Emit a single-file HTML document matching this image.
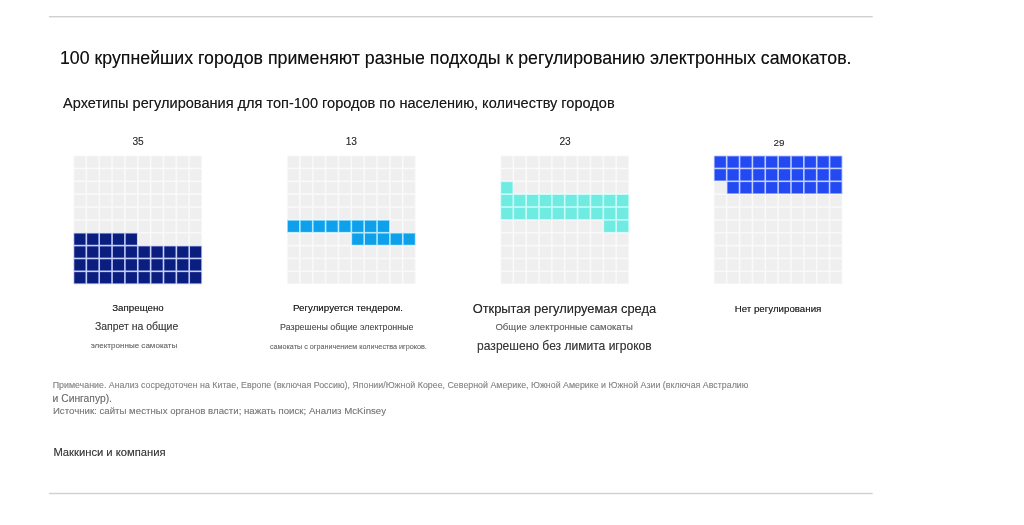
<!DOCTYPE html>
<html lang="ru">
<head>
<meta charset="utf-8">
<title>Архетипы регулирования электронных самокатов</title>
<style>
html,body{margin:0;padding:0;background:#fff;}
body{width:1024px;height:525px;position:relative;overflow:hidden;font-family:"Liberation Sans",sans-serif;}
.art{position:absolute;left:0;top:0;}
.t{position:absolute;white-space:nowrap;line-height:1;}
</style>
</head>
<body>
<svg class="art" width="1024" height="525" viewBox="0 0 1024 525">
<rect x="48.9" y="16.0" width="823.8" height="1.4" fill="#d0d0d0" style="filter:blur(0.4px)"/>
<rect x="48.9" y="492.8" width="823.8" height="1.4" fill="#d0d0d0" style="filter:blur(0.4px)"/>
<g style="filter:blur(0.65px)">
<rect x="73.47" y="155.57" width="12.91" height="12.91" fill="#f8f8f8"/>
<rect x="86.33" y="155.57" width="12.91" height="12.91" fill="#f8f8f8"/>
<rect x="99.19" y="155.57" width="12.91" height="12.91" fill="#f8f8f8"/>
<rect x="112.05" y="155.57" width="12.91" height="12.91" fill="#f8f8f8"/>
<rect x="124.91" y="155.57" width="12.91" height="12.91" fill="#f8f8f8"/>
<rect x="137.77" y="155.57" width="12.91" height="12.91" fill="#f8f8f8"/>
<rect x="150.63" y="155.57" width="12.91" height="12.91" fill="#f8f8f8"/>
<rect x="163.49" y="155.57" width="12.91" height="12.91" fill="#f8f8f8"/>
<rect x="176.35" y="155.57" width="12.91" height="12.91" fill="#f8f8f8"/>
<rect x="189.21" y="155.57" width="12.91" height="12.91" fill="#f8f8f8"/>
<rect x="73.47" y="168.43" width="12.91" height="12.91" fill="#f8f8f8"/>
<rect x="86.33" y="168.43" width="12.91" height="12.91" fill="#f8f8f8"/>
<rect x="99.19" y="168.43" width="12.91" height="12.91" fill="#f8f8f8"/>
<rect x="112.05" y="168.43" width="12.91" height="12.91" fill="#f8f8f8"/>
<rect x="124.91" y="168.43" width="12.91" height="12.91" fill="#f8f8f8"/>
<rect x="137.77" y="168.43" width="12.91" height="12.91" fill="#f8f8f8"/>
<rect x="150.63" y="168.43" width="12.91" height="12.91" fill="#f8f8f8"/>
<rect x="163.49" y="168.43" width="12.91" height="12.91" fill="#f8f8f8"/>
<rect x="176.35" y="168.43" width="12.91" height="12.91" fill="#f8f8f8"/>
<rect x="189.21" y="168.43" width="12.91" height="12.91" fill="#f8f8f8"/>
<rect x="73.47" y="181.29" width="12.91" height="12.91" fill="#f8f8f8"/>
<rect x="86.33" y="181.29" width="12.91" height="12.91" fill="#f8f8f8"/>
<rect x="99.19" y="181.29" width="12.91" height="12.91" fill="#f8f8f8"/>
<rect x="112.05" y="181.29" width="12.91" height="12.91" fill="#f8f8f8"/>
<rect x="124.91" y="181.29" width="12.91" height="12.91" fill="#f8f8f8"/>
<rect x="137.77" y="181.29" width="12.91" height="12.91" fill="#f8f8f8"/>
<rect x="150.63" y="181.29" width="12.91" height="12.91" fill="#f8f8f8"/>
<rect x="163.49" y="181.29" width="12.91" height="12.91" fill="#f8f8f8"/>
<rect x="176.35" y="181.29" width="12.91" height="12.91" fill="#f8f8f8"/>
<rect x="189.21" y="181.29" width="12.91" height="12.91" fill="#f8f8f8"/>
<rect x="73.47" y="194.15" width="12.91" height="12.91" fill="#f8f8f8"/>
<rect x="86.33" y="194.15" width="12.91" height="12.91" fill="#f8f8f8"/>
<rect x="99.19" y="194.15" width="12.91" height="12.91" fill="#f8f8f8"/>
<rect x="112.05" y="194.15" width="12.91" height="12.91" fill="#f8f8f8"/>
<rect x="124.91" y="194.15" width="12.91" height="12.91" fill="#f8f8f8"/>
<rect x="137.77" y="194.15" width="12.91" height="12.91" fill="#f8f8f8"/>
<rect x="150.63" y="194.15" width="12.91" height="12.91" fill="#f8f8f8"/>
<rect x="163.49" y="194.15" width="12.91" height="12.91" fill="#f8f8f8"/>
<rect x="176.35" y="194.15" width="12.91" height="12.91" fill="#f8f8f8"/>
<rect x="189.21" y="194.15" width="12.91" height="12.91" fill="#f8f8f8"/>
<rect x="73.47" y="207.01" width="12.91" height="12.91" fill="#f8f8f8"/>
<rect x="86.33" y="207.01" width="12.91" height="12.91" fill="#f8f8f8"/>
<rect x="99.19" y="207.01" width="12.91" height="12.91" fill="#f8f8f8"/>
<rect x="112.05" y="207.01" width="12.91" height="12.91" fill="#f8f8f8"/>
<rect x="124.91" y="207.01" width="12.91" height="12.91" fill="#f8f8f8"/>
<rect x="137.77" y="207.01" width="12.91" height="12.91" fill="#f8f8f8"/>
<rect x="150.63" y="207.01" width="12.91" height="12.91" fill="#f8f8f8"/>
<rect x="163.49" y="207.01" width="12.91" height="12.91" fill="#f8f8f8"/>
<rect x="176.35" y="207.01" width="12.91" height="12.91" fill="#f8f8f8"/>
<rect x="189.21" y="207.01" width="12.91" height="12.91" fill="#f8f8f8"/>
<rect x="73.47" y="219.87" width="12.91" height="12.91" fill="#f8f8f8"/>
<rect x="86.33" y="219.87" width="12.91" height="12.91" fill="#f8f8f8"/>
<rect x="99.19" y="219.87" width="12.91" height="12.91" fill="#f8f8f8"/>
<rect x="112.05" y="219.87" width="12.91" height="12.91" fill="#f8f8f8"/>
<rect x="124.91" y="219.87" width="12.91" height="12.91" fill="#f8f8f8"/>
<rect x="137.77" y="219.87" width="12.91" height="12.91" fill="#f8f8f8"/>
<rect x="150.63" y="219.87" width="12.91" height="12.91" fill="#f8f8f8"/>
<rect x="163.49" y="219.87" width="12.91" height="12.91" fill="#f8f8f8"/>
<rect x="176.35" y="219.87" width="12.91" height="12.91" fill="#f8f8f8"/>
<rect x="189.21" y="219.87" width="12.91" height="12.91" fill="#f8f8f8"/>
<rect x="73.47" y="232.73" width="12.91" height="12.91" fill="#b9c4f6"/>
<rect x="86.33" y="232.73" width="12.91" height="12.91" fill="#b9c4f6"/>
<rect x="99.19" y="232.73" width="12.91" height="12.91" fill="#b9c4f6"/>
<rect x="112.05" y="232.73" width="12.91" height="12.91" fill="#b9c4f6"/>
<rect x="124.91" y="232.73" width="12.91" height="12.91" fill="#b9c4f6"/>
<rect x="137.77" y="232.73" width="12.91" height="12.91" fill="#f8f8f8"/>
<rect x="150.63" y="232.73" width="12.91" height="12.91" fill="#f8f8f8"/>
<rect x="163.49" y="232.73" width="12.91" height="12.91" fill="#f8f8f8"/>
<rect x="176.35" y="232.73" width="12.91" height="12.91" fill="#f8f8f8"/>
<rect x="189.21" y="232.73" width="12.91" height="12.91" fill="#f8f8f8"/>
<rect x="73.47" y="245.59" width="12.91" height="12.91" fill="#b9c4f6"/>
<rect x="86.33" y="245.59" width="12.91" height="12.91" fill="#b9c4f6"/>
<rect x="99.19" y="245.59" width="12.91" height="12.91" fill="#b9c4f6"/>
<rect x="112.05" y="245.59" width="12.91" height="12.91" fill="#b9c4f6"/>
<rect x="124.91" y="245.59" width="12.91" height="12.91" fill="#b9c4f6"/>
<rect x="137.77" y="245.59" width="12.91" height="12.91" fill="#b9c4f6"/>
<rect x="150.63" y="245.59" width="12.91" height="12.91" fill="#b9c4f6"/>
<rect x="163.49" y="245.59" width="12.91" height="12.91" fill="#b9c4f6"/>
<rect x="176.35" y="245.59" width="12.91" height="12.91" fill="#b9c4f6"/>
<rect x="189.21" y="245.59" width="12.91" height="12.91" fill="#b9c4f6"/>
<rect x="73.47" y="258.45" width="12.91" height="12.91" fill="#b9c4f6"/>
<rect x="86.33" y="258.45" width="12.91" height="12.91" fill="#b9c4f6"/>
<rect x="99.19" y="258.45" width="12.91" height="12.91" fill="#b9c4f6"/>
<rect x="112.05" y="258.45" width="12.91" height="12.91" fill="#b9c4f6"/>
<rect x="124.91" y="258.45" width="12.91" height="12.91" fill="#b9c4f6"/>
<rect x="137.77" y="258.45" width="12.91" height="12.91" fill="#b9c4f6"/>
<rect x="150.63" y="258.45" width="12.91" height="12.91" fill="#b9c4f6"/>
<rect x="163.49" y="258.45" width="12.91" height="12.91" fill="#b9c4f6"/>
<rect x="176.35" y="258.45" width="12.91" height="12.91" fill="#b9c4f6"/>
<rect x="189.21" y="258.45" width="12.91" height="12.91" fill="#b9c4f6"/>
<rect x="73.47" y="271.31" width="12.91" height="12.91" fill="#b9c4f6"/>
<rect x="86.33" y="271.31" width="12.91" height="12.91" fill="#b9c4f6"/>
<rect x="99.19" y="271.31" width="12.91" height="12.91" fill="#b9c4f6"/>
<rect x="112.05" y="271.31" width="12.91" height="12.91" fill="#b9c4f6"/>
<rect x="124.91" y="271.31" width="12.91" height="12.91" fill="#b9c4f6"/>
<rect x="137.77" y="271.31" width="12.91" height="12.91" fill="#b9c4f6"/>
<rect x="150.63" y="271.31" width="12.91" height="12.91" fill="#b9c4f6"/>
<rect x="163.49" y="271.31" width="12.91" height="12.91" fill="#b9c4f6"/>
<rect x="176.35" y="271.31" width="12.91" height="12.91" fill="#b9c4f6"/>
<rect x="189.21" y="271.31" width="12.91" height="12.91" fill="#b9c4f6"/>
<rect x="287.02" y="155.57" width="12.91" height="12.91" fill="#f8f8f8"/>
<rect x="299.88" y="155.57" width="12.91" height="12.91" fill="#f8f8f8"/>
<rect x="312.74" y="155.57" width="12.91" height="12.91" fill="#f8f8f8"/>
<rect x="325.60" y="155.57" width="12.91" height="12.91" fill="#f8f8f8"/>
<rect x="338.46" y="155.57" width="12.91" height="12.91" fill="#f8f8f8"/>
<rect x="351.32" y="155.57" width="12.91" height="12.91" fill="#f8f8f8"/>
<rect x="364.18" y="155.57" width="12.91" height="12.91" fill="#f8f8f8"/>
<rect x="377.04" y="155.57" width="12.91" height="12.91" fill="#f8f8f8"/>
<rect x="389.90" y="155.57" width="12.91" height="12.91" fill="#f8f8f8"/>
<rect x="402.76" y="155.57" width="12.91" height="12.91" fill="#f8f8f8"/>
<rect x="287.02" y="168.43" width="12.91" height="12.91" fill="#f8f8f8"/>
<rect x="299.88" y="168.43" width="12.91" height="12.91" fill="#f8f8f8"/>
<rect x="312.74" y="168.43" width="12.91" height="12.91" fill="#f8f8f8"/>
<rect x="325.60" y="168.43" width="12.91" height="12.91" fill="#f8f8f8"/>
<rect x="338.46" y="168.43" width="12.91" height="12.91" fill="#f8f8f8"/>
<rect x="351.32" y="168.43" width="12.91" height="12.91" fill="#f8f8f8"/>
<rect x="364.18" y="168.43" width="12.91" height="12.91" fill="#f8f8f8"/>
<rect x="377.04" y="168.43" width="12.91" height="12.91" fill="#f8f8f8"/>
<rect x="389.90" y="168.43" width="12.91" height="12.91" fill="#f8f8f8"/>
<rect x="402.76" y="168.43" width="12.91" height="12.91" fill="#f8f8f8"/>
<rect x="287.02" y="181.29" width="12.91" height="12.91" fill="#f8f8f8"/>
<rect x="299.88" y="181.29" width="12.91" height="12.91" fill="#f8f8f8"/>
<rect x="312.74" y="181.29" width="12.91" height="12.91" fill="#f8f8f8"/>
<rect x="325.60" y="181.29" width="12.91" height="12.91" fill="#f8f8f8"/>
<rect x="338.46" y="181.29" width="12.91" height="12.91" fill="#f8f8f8"/>
<rect x="351.32" y="181.29" width="12.91" height="12.91" fill="#f8f8f8"/>
<rect x="364.18" y="181.29" width="12.91" height="12.91" fill="#f8f8f8"/>
<rect x="377.04" y="181.29" width="12.91" height="12.91" fill="#f8f8f8"/>
<rect x="389.90" y="181.29" width="12.91" height="12.91" fill="#f8f8f8"/>
<rect x="402.76" y="181.29" width="12.91" height="12.91" fill="#f8f8f8"/>
<rect x="287.02" y="194.15" width="12.91" height="12.91" fill="#f8f8f8"/>
<rect x="299.88" y="194.15" width="12.91" height="12.91" fill="#f8f8f8"/>
<rect x="312.74" y="194.15" width="12.91" height="12.91" fill="#f8f8f8"/>
<rect x="325.60" y="194.15" width="12.91" height="12.91" fill="#f8f8f8"/>
<rect x="338.46" y="194.15" width="12.91" height="12.91" fill="#f8f8f8"/>
<rect x="351.32" y="194.15" width="12.91" height="12.91" fill="#f8f8f8"/>
<rect x="364.18" y="194.15" width="12.91" height="12.91" fill="#f8f8f8"/>
<rect x="377.04" y="194.15" width="12.91" height="12.91" fill="#f8f8f8"/>
<rect x="389.90" y="194.15" width="12.91" height="12.91" fill="#f8f8f8"/>
<rect x="402.76" y="194.15" width="12.91" height="12.91" fill="#f8f8f8"/>
<rect x="287.02" y="207.01" width="12.91" height="12.91" fill="#f8f8f8"/>
<rect x="299.88" y="207.01" width="12.91" height="12.91" fill="#f8f8f8"/>
<rect x="312.74" y="207.01" width="12.91" height="12.91" fill="#f8f8f8"/>
<rect x="325.60" y="207.01" width="12.91" height="12.91" fill="#f8f8f8"/>
<rect x="338.46" y="207.01" width="12.91" height="12.91" fill="#f8f8f8"/>
<rect x="351.32" y="207.01" width="12.91" height="12.91" fill="#f8f8f8"/>
<rect x="364.18" y="207.01" width="12.91" height="12.91" fill="#f8f8f8"/>
<rect x="377.04" y="207.01" width="12.91" height="12.91" fill="#f8f8f8"/>
<rect x="389.90" y="207.01" width="12.91" height="12.91" fill="#f8f8f8"/>
<rect x="402.76" y="207.01" width="12.91" height="12.91" fill="#f8f8f8"/>
<rect x="287.02" y="219.87" width="12.91" height="12.91" fill="#a5e6ff"/>
<rect x="299.88" y="219.87" width="12.91" height="12.91" fill="#a5e6ff"/>
<rect x="312.74" y="219.87" width="12.91" height="12.91" fill="#a5e6ff"/>
<rect x="325.60" y="219.87" width="12.91" height="12.91" fill="#a5e6ff"/>
<rect x="338.46" y="219.87" width="12.91" height="12.91" fill="#a5e6ff"/>
<rect x="351.32" y="219.87" width="12.91" height="12.91" fill="#a5e6ff"/>
<rect x="364.18" y="219.87" width="12.91" height="12.91" fill="#a5e6ff"/>
<rect x="377.04" y="219.87" width="12.91" height="12.91" fill="#a5e6ff"/>
<rect x="389.90" y="219.87" width="12.91" height="12.91" fill="#f8f8f8"/>
<rect x="402.76" y="219.87" width="12.91" height="12.91" fill="#f8f8f8"/>
<rect x="287.02" y="232.73" width="12.91" height="12.91" fill="#f8f8f8"/>
<rect x="299.88" y="232.73" width="12.91" height="12.91" fill="#f8f8f8"/>
<rect x="312.74" y="232.73" width="12.91" height="12.91" fill="#f8f8f8"/>
<rect x="325.60" y="232.73" width="12.91" height="12.91" fill="#f8f8f8"/>
<rect x="338.46" y="232.73" width="12.91" height="12.91" fill="#f8f8f8"/>
<rect x="351.32" y="232.73" width="12.91" height="12.91" fill="#a5e6ff"/>
<rect x="364.18" y="232.73" width="12.91" height="12.91" fill="#a5e6ff"/>
<rect x="377.04" y="232.73" width="12.91" height="12.91" fill="#a5e6ff"/>
<rect x="389.90" y="232.73" width="12.91" height="12.91" fill="#a5e6ff"/>
<rect x="402.76" y="232.73" width="12.91" height="12.91" fill="#a5e6ff"/>
<rect x="287.02" y="245.59" width="12.91" height="12.91" fill="#f8f8f8"/>
<rect x="299.88" y="245.59" width="12.91" height="12.91" fill="#f8f8f8"/>
<rect x="312.74" y="245.59" width="12.91" height="12.91" fill="#f8f8f8"/>
<rect x="325.60" y="245.59" width="12.91" height="12.91" fill="#f8f8f8"/>
<rect x="338.46" y="245.59" width="12.91" height="12.91" fill="#f8f8f8"/>
<rect x="351.32" y="245.59" width="12.91" height="12.91" fill="#f8f8f8"/>
<rect x="364.18" y="245.59" width="12.91" height="12.91" fill="#f8f8f8"/>
<rect x="377.04" y="245.59" width="12.91" height="12.91" fill="#f8f8f8"/>
<rect x="389.90" y="245.59" width="12.91" height="12.91" fill="#f8f8f8"/>
<rect x="402.76" y="245.59" width="12.91" height="12.91" fill="#f8f8f8"/>
<rect x="287.02" y="258.45" width="12.91" height="12.91" fill="#f8f8f8"/>
<rect x="299.88" y="258.45" width="12.91" height="12.91" fill="#f8f8f8"/>
<rect x="312.74" y="258.45" width="12.91" height="12.91" fill="#f8f8f8"/>
<rect x="325.60" y="258.45" width="12.91" height="12.91" fill="#f8f8f8"/>
<rect x="338.46" y="258.45" width="12.91" height="12.91" fill="#f8f8f8"/>
<rect x="351.32" y="258.45" width="12.91" height="12.91" fill="#f8f8f8"/>
<rect x="364.18" y="258.45" width="12.91" height="12.91" fill="#f8f8f8"/>
<rect x="377.04" y="258.45" width="12.91" height="12.91" fill="#f8f8f8"/>
<rect x="389.90" y="258.45" width="12.91" height="12.91" fill="#f8f8f8"/>
<rect x="402.76" y="258.45" width="12.91" height="12.91" fill="#f8f8f8"/>
<rect x="287.02" y="271.31" width="12.91" height="12.91" fill="#f8f8f8"/>
<rect x="299.88" y="271.31" width="12.91" height="12.91" fill="#f8f8f8"/>
<rect x="312.74" y="271.31" width="12.91" height="12.91" fill="#f8f8f8"/>
<rect x="325.60" y="271.31" width="12.91" height="12.91" fill="#f8f8f8"/>
<rect x="338.46" y="271.31" width="12.91" height="12.91" fill="#f8f8f8"/>
<rect x="351.32" y="271.31" width="12.91" height="12.91" fill="#f8f8f8"/>
<rect x="364.18" y="271.31" width="12.91" height="12.91" fill="#f8f8f8"/>
<rect x="377.04" y="271.31" width="12.91" height="12.91" fill="#f8f8f8"/>
<rect x="389.90" y="271.31" width="12.91" height="12.91" fill="#f8f8f8"/>
<rect x="402.76" y="271.31" width="12.91" height="12.91" fill="#f8f8f8"/>
<rect x="500.42" y="155.57" width="12.91" height="12.91" fill="#f8f8f8"/>
<rect x="513.28" y="155.57" width="12.91" height="12.91" fill="#f8f8f8"/>
<rect x="526.14" y="155.57" width="12.91" height="12.91" fill="#f8f8f8"/>
<rect x="539.00" y="155.57" width="12.91" height="12.91" fill="#f8f8f8"/>
<rect x="551.86" y="155.57" width="12.91" height="12.91" fill="#f8f8f8"/>
<rect x="564.72" y="155.57" width="12.91" height="12.91" fill="#f8f8f8"/>
<rect x="577.58" y="155.57" width="12.91" height="12.91" fill="#f8f8f8"/>
<rect x="590.44" y="155.57" width="12.91" height="12.91" fill="#f8f8f8"/>
<rect x="603.30" y="155.57" width="12.91" height="12.91" fill="#f8f8f8"/>
<rect x="616.16" y="155.57" width="12.91" height="12.91" fill="#f8f8f8"/>
<rect x="500.42" y="168.43" width="12.91" height="12.91" fill="#f8f8f8"/>
<rect x="513.28" y="168.43" width="12.91" height="12.91" fill="#f8f8f8"/>
<rect x="526.14" y="168.43" width="12.91" height="12.91" fill="#f8f8f8"/>
<rect x="539.00" y="168.43" width="12.91" height="12.91" fill="#f8f8f8"/>
<rect x="551.86" y="168.43" width="12.91" height="12.91" fill="#f8f8f8"/>
<rect x="564.72" y="168.43" width="12.91" height="12.91" fill="#f8f8f8"/>
<rect x="577.58" y="168.43" width="12.91" height="12.91" fill="#f8f8f8"/>
<rect x="590.44" y="168.43" width="12.91" height="12.91" fill="#f8f8f8"/>
<rect x="603.30" y="168.43" width="12.91" height="12.91" fill="#f8f8f8"/>
<rect x="616.16" y="168.43" width="12.91" height="12.91" fill="#f8f8f8"/>
<rect x="500.42" y="181.29" width="12.91" height="12.91" fill="#c4fbf8"/>
<rect x="513.28" y="181.29" width="12.91" height="12.91" fill="#f8f8f8"/>
<rect x="526.14" y="181.29" width="12.91" height="12.91" fill="#f8f8f8"/>
<rect x="539.00" y="181.29" width="12.91" height="12.91" fill="#f8f8f8"/>
<rect x="551.86" y="181.29" width="12.91" height="12.91" fill="#f8f8f8"/>
<rect x="564.72" y="181.29" width="12.91" height="12.91" fill="#f8f8f8"/>
<rect x="577.58" y="181.29" width="12.91" height="12.91" fill="#f8f8f8"/>
<rect x="590.44" y="181.29" width="12.91" height="12.91" fill="#f8f8f8"/>
<rect x="603.30" y="181.29" width="12.91" height="12.91" fill="#f8f8f8"/>
<rect x="616.16" y="181.29" width="12.91" height="12.91" fill="#f8f8f8"/>
<rect x="500.42" y="194.15" width="12.91" height="12.91" fill="#c4fbf8"/>
<rect x="513.28" y="194.15" width="12.91" height="12.91" fill="#c4fbf8"/>
<rect x="526.14" y="194.15" width="12.91" height="12.91" fill="#c4fbf8"/>
<rect x="539.00" y="194.15" width="12.91" height="12.91" fill="#c4fbf8"/>
<rect x="551.86" y="194.15" width="12.91" height="12.91" fill="#c4fbf8"/>
<rect x="564.72" y="194.15" width="12.91" height="12.91" fill="#c4fbf8"/>
<rect x="577.58" y="194.15" width="12.91" height="12.91" fill="#c4fbf8"/>
<rect x="590.44" y="194.15" width="12.91" height="12.91" fill="#c4fbf8"/>
<rect x="603.30" y="194.15" width="12.91" height="12.91" fill="#c4fbf8"/>
<rect x="616.16" y="194.15" width="12.91" height="12.91" fill="#c4fbf8"/>
<rect x="500.42" y="207.01" width="12.91" height="12.91" fill="#c4fbf8"/>
<rect x="513.28" y="207.01" width="12.91" height="12.91" fill="#c4fbf8"/>
<rect x="526.14" y="207.01" width="12.91" height="12.91" fill="#c4fbf8"/>
<rect x="539.00" y="207.01" width="12.91" height="12.91" fill="#c4fbf8"/>
<rect x="551.86" y="207.01" width="12.91" height="12.91" fill="#c4fbf8"/>
<rect x="564.72" y="207.01" width="12.91" height="12.91" fill="#c4fbf8"/>
<rect x="577.58" y="207.01" width="12.91" height="12.91" fill="#c4fbf8"/>
<rect x="590.44" y="207.01" width="12.91" height="12.91" fill="#c4fbf8"/>
<rect x="603.30" y="207.01" width="12.91" height="12.91" fill="#c4fbf8"/>
<rect x="616.16" y="207.01" width="12.91" height="12.91" fill="#c4fbf8"/>
<rect x="500.42" y="219.87" width="12.91" height="12.91" fill="#f8f8f8"/>
<rect x="513.28" y="219.87" width="12.91" height="12.91" fill="#f8f8f8"/>
<rect x="526.14" y="219.87" width="12.91" height="12.91" fill="#f8f8f8"/>
<rect x="539.00" y="219.87" width="12.91" height="12.91" fill="#f8f8f8"/>
<rect x="551.86" y="219.87" width="12.91" height="12.91" fill="#f8f8f8"/>
<rect x="564.72" y="219.87" width="12.91" height="12.91" fill="#f8f8f8"/>
<rect x="577.58" y="219.87" width="12.91" height="12.91" fill="#f8f8f8"/>
<rect x="590.44" y="219.87" width="12.91" height="12.91" fill="#f8f8f8"/>
<rect x="603.30" y="219.87" width="12.91" height="12.91" fill="#c4fbf8"/>
<rect x="616.16" y="219.87" width="12.91" height="12.91" fill="#c4fbf8"/>
<rect x="500.42" y="232.73" width="12.91" height="12.91" fill="#f8f8f8"/>
<rect x="513.28" y="232.73" width="12.91" height="12.91" fill="#f8f8f8"/>
<rect x="526.14" y="232.73" width="12.91" height="12.91" fill="#f8f8f8"/>
<rect x="539.00" y="232.73" width="12.91" height="12.91" fill="#f8f8f8"/>
<rect x="551.86" y="232.73" width="12.91" height="12.91" fill="#f8f8f8"/>
<rect x="564.72" y="232.73" width="12.91" height="12.91" fill="#f8f8f8"/>
<rect x="577.58" y="232.73" width="12.91" height="12.91" fill="#f8f8f8"/>
<rect x="590.44" y="232.73" width="12.91" height="12.91" fill="#f8f8f8"/>
<rect x="603.30" y="232.73" width="12.91" height="12.91" fill="#f8f8f8"/>
<rect x="616.16" y="232.73" width="12.91" height="12.91" fill="#f8f8f8"/>
<rect x="500.42" y="245.59" width="12.91" height="12.91" fill="#f8f8f8"/>
<rect x="513.28" y="245.59" width="12.91" height="12.91" fill="#f8f8f8"/>
<rect x="526.14" y="245.59" width="12.91" height="12.91" fill="#f8f8f8"/>
<rect x="539.00" y="245.59" width="12.91" height="12.91" fill="#f8f8f8"/>
<rect x="551.86" y="245.59" width="12.91" height="12.91" fill="#f8f8f8"/>
<rect x="564.72" y="245.59" width="12.91" height="12.91" fill="#f8f8f8"/>
<rect x="577.58" y="245.59" width="12.91" height="12.91" fill="#f8f8f8"/>
<rect x="590.44" y="245.59" width="12.91" height="12.91" fill="#f8f8f8"/>
<rect x="603.30" y="245.59" width="12.91" height="12.91" fill="#f8f8f8"/>
<rect x="616.16" y="245.59" width="12.91" height="12.91" fill="#f8f8f8"/>
<rect x="500.42" y="258.45" width="12.91" height="12.91" fill="#f8f8f8"/>
<rect x="513.28" y="258.45" width="12.91" height="12.91" fill="#f8f8f8"/>
<rect x="526.14" y="258.45" width="12.91" height="12.91" fill="#f8f8f8"/>
<rect x="539.00" y="258.45" width="12.91" height="12.91" fill="#f8f8f8"/>
<rect x="551.86" y="258.45" width="12.91" height="12.91" fill="#f8f8f8"/>
<rect x="564.72" y="258.45" width="12.91" height="12.91" fill="#f8f8f8"/>
<rect x="577.58" y="258.45" width="12.91" height="12.91" fill="#f8f8f8"/>
<rect x="590.44" y="258.45" width="12.91" height="12.91" fill="#f8f8f8"/>
<rect x="603.30" y="258.45" width="12.91" height="12.91" fill="#f8f8f8"/>
<rect x="616.16" y="258.45" width="12.91" height="12.91" fill="#f8f8f8"/>
<rect x="500.42" y="271.31" width="12.91" height="12.91" fill="#f8f8f8"/>
<rect x="513.28" y="271.31" width="12.91" height="12.91" fill="#f8f8f8"/>
<rect x="526.14" y="271.31" width="12.91" height="12.91" fill="#f8f8f8"/>
<rect x="539.00" y="271.31" width="12.91" height="12.91" fill="#f8f8f8"/>
<rect x="551.86" y="271.31" width="12.91" height="12.91" fill="#f8f8f8"/>
<rect x="564.72" y="271.31" width="12.91" height="12.91" fill="#f8f8f8"/>
<rect x="577.58" y="271.31" width="12.91" height="12.91" fill="#f8f8f8"/>
<rect x="590.44" y="271.31" width="12.91" height="12.91" fill="#f8f8f8"/>
<rect x="603.30" y="271.31" width="12.91" height="12.91" fill="#f8f8f8"/>
<rect x="616.16" y="271.31" width="12.91" height="12.91" fill="#f8f8f8"/>
<rect x="713.82" y="155.57" width="12.91" height="12.91" fill="#b4c6ff"/>
<rect x="726.68" y="155.57" width="12.91" height="12.91" fill="#b4c6ff"/>
<rect x="739.54" y="155.57" width="12.91" height="12.91" fill="#b4c6ff"/>
<rect x="752.40" y="155.57" width="12.91" height="12.91" fill="#b4c6ff"/>
<rect x="765.26" y="155.57" width="12.91" height="12.91" fill="#b4c6ff"/>
<rect x="778.12" y="155.57" width="12.91" height="12.91" fill="#b4c6ff"/>
<rect x="790.98" y="155.57" width="12.91" height="12.91" fill="#b4c6ff"/>
<rect x="803.84" y="155.57" width="12.91" height="12.91" fill="#b4c6ff"/>
<rect x="816.70" y="155.57" width="12.91" height="12.91" fill="#b4c6ff"/>
<rect x="829.56" y="155.57" width="12.91" height="12.91" fill="#b4c6ff"/>
<rect x="713.82" y="168.43" width="12.91" height="12.91" fill="#b4c6ff"/>
<rect x="726.68" y="168.43" width="12.91" height="12.91" fill="#b4c6ff"/>
<rect x="739.54" y="168.43" width="12.91" height="12.91" fill="#b4c6ff"/>
<rect x="752.40" y="168.43" width="12.91" height="12.91" fill="#b4c6ff"/>
<rect x="765.26" y="168.43" width="12.91" height="12.91" fill="#b4c6ff"/>
<rect x="778.12" y="168.43" width="12.91" height="12.91" fill="#b4c6ff"/>
<rect x="790.98" y="168.43" width="12.91" height="12.91" fill="#b4c6ff"/>
<rect x="803.84" y="168.43" width="12.91" height="12.91" fill="#b4c6ff"/>
<rect x="816.70" y="168.43" width="12.91" height="12.91" fill="#b4c6ff"/>
<rect x="829.56" y="168.43" width="12.91" height="12.91" fill="#b4c6ff"/>
<rect x="713.82" y="181.29" width="12.91" height="12.91" fill="#f8f8f8"/>
<rect x="726.68" y="181.29" width="12.91" height="12.91" fill="#b4c6ff"/>
<rect x="739.54" y="181.29" width="12.91" height="12.91" fill="#b4c6ff"/>
<rect x="752.40" y="181.29" width="12.91" height="12.91" fill="#b4c6ff"/>
<rect x="765.26" y="181.29" width="12.91" height="12.91" fill="#b4c6ff"/>
<rect x="778.12" y="181.29" width="12.91" height="12.91" fill="#b4c6ff"/>
<rect x="790.98" y="181.29" width="12.91" height="12.91" fill="#b4c6ff"/>
<rect x="803.84" y="181.29" width="12.91" height="12.91" fill="#b4c6ff"/>
<rect x="816.70" y="181.29" width="12.91" height="12.91" fill="#b4c6ff"/>
<rect x="829.56" y="181.29" width="12.91" height="12.91" fill="#b4c6ff"/>
<rect x="713.82" y="194.15" width="12.91" height="12.91" fill="#f8f8f8"/>
<rect x="726.68" y="194.15" width="12.91" height="12.91" fill="#f8f8f8"/>
<rect x="739.54" y="194.15" width="12.91" height="12.91" fill="#f8f8f8"/>
<rect x="752.40" y="194.15" width="12.91" height="12.91" fill="#f8f8f8"/>
<rect x="765.26" y="194.15" width="12.91" height="12.91" fill="#f8f8f8"/>
<rect x="778.12" y="194.15" width="12.91" height="12.91" fill="#f8f8f8"/>
<rect x="790.98" y="194.15" width="12.91" height="12.91" fill="#f8f8f8"/>
<rect x="803.84" y="194.15" width="12.91" height="12.91" fill="#f8f8f8"/>
<rect x="816.70" y="194.15" width="12.91" height="12.91" fill="#f8f8f8"/>
<rect x="829.56" y="194.15" width="12.91" height="12.91" fill="#f8f8f8"/>
<rect x="713.82" y="207.01" width="12.91" height="12.91" fill="#f8f8f8"/>
<rect x="726.68" y="207.01" width="12.91" height="12.91" fill="#f8f8f8"/>
<rect x="739.54" y="207.01" width="12.91" height="12.91" fill="#f8f8f8"/>
<rect x="752.40" y="207.01" width="12.91" height="12.91" fill="#f8f8f8"/>
<rect x="765.26" y="207.01" width="12.91" height="12.91" fill="#f8f8f8"/>
<rect x="778.12" y="207.01" width="12.91" height="12.91" fill="#f8f8f8"/>
<rect x="790.98" y="207.01" width="12.91" height="12.91" fill="#f8f8f8"/>
<rect x="803.84" y="207.01" width="12.91" height="12.91" fill="#f8f8f8"/>
<rect x="816.70" y="207.01" width="12.91" height="12.91" fill="#f8f8f8"/>
<rect x="829.56" y="207.01" width="12.91" height="12.91" fill="#f8f8f8"/>
<rect x="713.82" y="219.87" width="12.91" height="12.91" fill="#f8f8f8"/>
<rect x="726.68" y="219.87" width="12.91" height="12.91" fill="#f8f8f8"/>
<rect x="739.54" y="219.87" width="12.91" height="12.91" fill="#f8f8f8"/>
<rect x="752.40" y="219.87" width="12.91" height="12.91" fill="#f8f8f8"/>
<rect x="765.26" y="219.87" width="12.91" height="12.91" fill="#f8f8f8"/>
<rect x="778.12" y="219.87" width="12.91" height="12.91" fill="#f8f8f8"/>
<rect x="790.98" y="219.87" width="12.91" height="12.91" fill="#f8f8f8"/>
<rect x="803.84" y="219.87" width="12.91" height="12.91" fill="#f8f8f8"/>
<rect x="816.70" y="219.87" width="12.91" height="12.91" fill="#f8f8f8"/>
<rect x="829.56" y="219.87" width="12.91" height="12.91" fill="#f8f8f8"/>
<rect x="713.82" y="232.73" width="12.91" height="12.91" fill="#f8f8f8"/>
<rect x="726.68" y="232.73" width="12.91" height="12.91" fill="#f8f8f8"/>
<rect x="739.54" y="232.73" width="12.91" height="12.91" fill="#f8f8f8"/>
<rect x="752.40" y="232.73" width="12.91" height="12.91" fill="#f8f8f8"/>
<rect x="765.26" y="232.73" width="12.91" height="12.91" fill="#f8f8f8"/>
<rect x="778.12" y="232.73" width="12.91" height="12.91" fill="#f8f8f8"/>
<rect x="790.98" y="232.73" width="12.91" height="12.91" fill="#f8f8f8"/>
<rect x="803.84" y="232.73" width="12.91" height="12.91" fill="#f8f8f8"/>
<rect x="816.70" y="232.73" width="12.91" height="12.91" fill="#f8f8f8"/>
<rect x="829.56" y="232.73" width="12.91" height="12.91" fill="#f8f8f8"/>
<rect x="713.82" y="245.59" width="12.91" height="12.91" fill="#f8f8f8"/>
<rect x="726.68" y="245.59" width="12.91" height="12.91" fill="#f8f8f8"/>
<rect x="739.54" y="245.59" width="12.91" height="12.91" fill="#f8f8f8"/>
<rect x="752.40" y="245.59" width="12.91" height="12.91" fill="#f8f8f8"/>
<rect x="765.26" y="245.59" width="12.91" height="12.91" fill="#f8f8f8"/>
<rect x="778.12" y="245.59" width="12.91" height="12.91" fill="#f8f8f8"/>
<rect x="790.98" y="245.59" width="12.91" height="12.91" fill="#f8f8f8"/>
<rect x="803.84" y="245.59" width="12.91" height="12.91" fill="#f8f8f8"/>
<rect x="816.70" y="245.59" width="12.91" height="12.91" fill="#f8f8f8"/>
<rect x="829.56" y="245.59" width="12.91" height="12.91" fill="#f8f8f8"/>
<rect x="713.82" y="258.45" width="12.91" height="12.91" fill="#f8f8f8"/>
<rect x="726.68" y="258.45" width="12.91" height="12.91" fill="#f8f8f8"/>
<rect x="739.54" y="258.45" width="12.91" height="12.91" fill="#f8f8f8"/>
<rect x="752.40" y="258.45" width="12.91" height="12.91" fill="#f8f8f8"/>
<rect x="765.26" y="258.45" width="12.91" height="12.91" fill="#f8f8f8"/>
<rect x="778.12" y="258.45" width="12.91" height="12.91" fill="#f8f8f8"/>
<rect x="790.98" y="258.45" width="12.91" height="12.91" fill="#f8f8f8"/>
<rect x="803.84" y="258.45" width="12.91" height="12.91" fill="#f8f8f8"/>
<rect x="816.70" y="258.45" width="12.91" height="12.91" fill="#f8f8f8"/>
<rect x="829.56" y="258.45" width="12.91" height="12.91" fill="#f8f8f8"/>
<rect x="713.82" y="271.31" width="12.91" height="12.91" fill="#f8f8f8"/>
<rect x="726.68" y="271.31" width="12.91" height="12.91" fill="#f8f8f8"/>
<rect x="739.54" y="271.31" width="12.91" height="12.91" fill="#f8f8f8"/>
<rect x="752.40" y="271.31" width="12.91" height="12.91" fill="#f8f8f8"/>
<rect x="765.26" y="271.31" width="12.91" height="12.91" fill="#f8f8f8"/>
<rect x="778.12" y="271.31" width="12.91" height="12.91" fill="#f8f8f8"/>
<rect x="790.98" y="271.31" width="12.91" height="12.91" fill="#f8f8f8"/>
<rect x="803.84" y="271.31" width="12.91" height="12.91" fill="#f8f8f8"/>
<rect x="816.70" y="271.31" width="12.91" height="12.91" fill="#f8f8f8"/>
<rect x="829.56" y="271.31" width="12.91" height="12.91" fill="#f8f8f8"/>
<rect x="74.30" y="156.40" width="11.2" height="11.2" fill="#efefef"/>
<rect x="87.16" y="156.40" width="11.2" height="11.2" fill="#efefef"/>
<rect x="100.02" y="156.40" width="11.2" height="11.2" fill="#efefef"/>
<rect x="112.88" y="156.40" width="11.2" height="11.2" fill="#efefef"/>
<rect x="125.74" y="156.40" width="11.2" height="11.2" fill="#efefef"/>
<rect x="138.60" y="156.40" width="11.2" height="11.2" fill="#efefef"/>
<rect x="151.46" y="156.40" width="11.2" height="11.2" fill="#efefef"/>
<rect x="164.32" y="156.40" width="11.2" height="11.2" fill="#efefef"/>
<rect x="177.18" y="156.40" width="11.2" height="11.2" fill="#efefef"/>
<rect x="190.04" y="156.40" width="11.2" height="11.2" fill="#efefef"/>
<rect x="74.30" y="169.26" width="11.2" height="11.2" fill="#efefef"/>
<rect x="87.16" y="169.26" width="11.2" height="11.2" fill="#efefef"/>
<rect x="100.02" y="169.26" width="11.2" height="11.2" fill="#efefef"/>
<rect x="112.88" y="169.26" width="11.2" height="11.2" fill="#efefef"/>
<rect x="125.74" y="169.26" width="11.2" height="11.2" fill="#efefef"/>
<rect x="138.60" y="169.26" width="11.2" height="11.2" fill="#efefef"/>
<rect x="151.46" y="169.26" width="11.2" height="11.2" fill="#efefef"/>
<rect x="164.32" y="169.26" width="11.2" height="11.2" fill="#efefef"/>
<rect x="177.18" y="169.26" width="11.2" height="11.2" fill="#efefef"/>
<rect x="190.04" y="169.26" width="11.2" height="11.2" fill="#efefef"/>
<rect x="74.30" y="182.12" width="11.2" height="11.2" fill="#efefef"/>
<rect x="87.16" y="182.12" width="11.2" height="11.2" fill="#efefef"/>
<rect x="100.02" y="182.12" width="11.2" height="11.2" fill="#efefef"/>
<rect x="112.88" y="182.12" width="11.2" height="11.2" fill="#efefef"/>
<rect x="125.74" y="182.12" width="11.2" height="11.2" fill="#efefef"/>
<rect x="138.60" y="182.12" width="11.2" height="11.2" fill="#efefef"/>
<rect x="151.46" y="182.12" width="11.2" height="11.2" fill="#efefef"/>
<rect x="164.32" y="182.12" width="11.2" height="11.2" fill="#efefef"/>
<rect x="177.18" y="182.12" width="11.2" height="11.2" fill="#efefef"/>
<rect x="190.04" y="182.12" width="11.2" height="11.2" fill="#efefef"/>
<rect x="74.30" y="194.98" width="11.2" height="11.2" fill="#efefef"/>
<rect x="87.16" y="194.98" width="11.2" height="11.2" fill="#efefef"/>
<rect x="100.02" y="194.98" width="11.2" height="11.2" fill="#efefef"/>
<rect x="112.88" y="194.98" width="11.2" height="11.2" fill="#efefef"/>
<rect x="125.74" y="194.98" width="11.2" height="11.2" fill="#efefef"/>
<rect x="138.60" y="194.98" width="11.2" height="11.2" fill="#efefef"/>
<rect x="151.46" y="194.98" width="11.2" height="11.2" fill="#efefef"/>
<rect x="164.32" y="194.98" width="11.2" height="11.2" fill="#efefef"/>
<rect x="177.18" y="194.98" width="11.2" height="11.2" fill="#efefef"/>
<rect x="190.04" y="194.98" width="11.2" height="11.2" fill="#efefef"/>
<rect x="74.30" y="207.84" width="11.2" height="11.2" fill="#efefef"/>
<rect x="87.16" y="207.84" width="11.2" height="11.2" fill="#efefef"/>
<rect x="100.02" y="207.84" width="11.2" height="11.2" fill="#efefef"/>
<rect x="112.88" y="207.84" width="11.2" height="11.2" fill="#efefef"/>
<rect x="125.74" y="207.84" width="11.2" height="11.2" fill="#efefef"/>
<rect x="138.60" y="207.84" width="11.2" height="11.2" fill="#efefef"/>
<rect x="151.46" y="207.84" width="11.2" height="11.2" fill="#efefef"/>
<rect x="164.32" y="207.84" width="11.2" height="11.2" fill="#efefef"/>
<rect x="177.18" y="207.84" width="11.2" height="11.2" fill="#efefef"/>
<rect x="190.04" y="207.84" width="11.2" height="11.2" fill="#efefef"/>
<rect x="74.30" y="220.70" width="11.2" height="11.2" fill="#efefef"/>
<rect x="87.16" y="220.70" width="11.2" height="11.2" fill="#efefef"/>
<rect x="100.02" y="220.70" width="11.2" height="11.2" fill="#efefef"/>
<rect x="112.88" y="220.70" width="11.2" height="11.2" fill="#efefef"/>
<rect x="125.74" y="220.70" width="11.2" height="11.2" fill="#efefef"/>
<rect x="138.60" y="220.70" width="11.2" height="11.2" fill="#efefef"/>
<rect x="151.46" y="220.70" width="11.2" height="11.2" fill="#efefef"/>
<rect x="164.32" y="220.70" width="11.2" height="11.2" fill="#efefef"/>
<rect x="177.18" y="220.70" width="11.2" height="11.2" fill="#efefef"/>
<rect x="190.04" y="220.70" width="11.2" height="11.2" fill="#efefef"/>
<rect x="74.30" y="233.56" width="11.2" height="11.2" fill="#0a1e80"/>
<rect x="87.16" y="233.56" width="11.2" height="11.2" fill="#0a1e80"/>
<rect x="100.02" y="233.56" width="11.2" height="11.2" fill="#0a1e80"/>
<rect x="112.88" y="233.56" width="11.2" height="11.2" fill="#0a1e80"/>
<rect x="125.74" y="233.56" width="11.2" height="11.2" fill="#0a1e80"/>
<rect x="138.60" y="233.56" width="11.2" height="11.2" fill="#efefef"/>
<rect x="151.46" y="233.56" width="11.2" height="11.2" fill="#efefef"/>
<rect x="164.32" y="233.56" width="11.2" height="11.2" fill="#efefef"/>
<rect x="177.18" y="233.56" width="11.2" height="11.2" fill="#efefef"/>
<rect x="190.04" y="233.56" width="11.2" height="11.2" fill="#efefef"/>
<rect x="74.30" y="246.42" width="11.2" height="11.2" fill="#0a1e80"/>
<rect x="87.16" y="246.42" width="11.2" height="11.2" fill="#0a1e80"/>
<rect x="100.02" y="246.42" width="11.2" height="11.2" fill="#0a1e80"/>
<rect x="112.88" y="246.42" width="11.2" height="11.2" fill="#0a1e80"/>
<rect x="125.74" y="246.42" width="11.2" height="11.2" fill="#0a1e80"/>
<rect x="138.60" y="246.42" width="11.2" height="11.2" fill="#0a1e80"/>
<rect x="151.46" y="246.42" width="11.2" height="11.2" fill="#0a1e80"/>
<rect x="164.32" y="246.42" width="11.2" height="11.2" fill="#0a1e80"/>
<rect x="177.18" y="246.42" width="11.2" height="11.2" fill="#0a1e80"/>
<rect x="190.04" y="246.42" width="11.2" height="11.2" fill="#0a1e80"/>
<rect x="74.30" y="259.28" width="11.2" height="11.2" fill="#0a1e80"/>
<rect x="87.16" y="259.28" width="11.2" height="11.2" fill="#0a1e80"/>
<rect x="100.02" y="259.28" width="11.2" height="11.2" fill="#0a1e80"/>
<rect x="112.88" y="259.28" width="11.2" height="11.2" fill="#0a1e80"/>
<rect x="125.74" y="259.28" width="11.2" height="11.2" fill="#0a1e80"/>
<rect x="138.60" y="259.28" width="11.2" height="11.2" fill="#0a1e80"/>
<rect x="151.46" y="259.28" width="11.2" height="11.2" fill="#0a1e80"/>
<rect x="164.32" y="259.28" width="11.2" height="11.2" fill="#0a1e80"/>
<rect x="177.18" y="259.28" width="11.2" height="11.2" fill="#0a1e80"/>
<rect x="190.04" y="259.28" width="11.2" height="11.2" fill="#0a1e80"/>
<rect x="74.30" y="272.14" width="11.2" height="11.2" fill="#0a1e80"/>
<rect x="87.16" y="272.14" width="11.2" height="11.2" fill="#0a1e80"/>
<rect x="100.02" y="272.14" width="11.2" height="11.2" fill="#0a1e80"/>
<rect x="112.88" y="272.14" width="11.2" height="11.2" fill="#0a1e80"/>
<rect x="125.74" y="272.14" width="11.2" height="11.2" fill="#0a1e80"/>
<rect x="138.60" y="272.14" width="11.2" height="11.2" fill="#0a1e80"/>
<rect x="151.46" y="272.14" width="11.2" height="11.2" fill="#0a1e80"/>
<rect x="164.32" y="272.14" width="11.2" height="11.2" fill="#0a1e80"/>
<rect x="177.18" y="272.14" width="11.2" height="11.2" fill="#0a1e80"/>
<rect x="190.04" y="272.14" width="11.2" height="11.2" fill="#0a1e80"/>
<rect x="287.85" y="156.40" width="11.2" height="11.2" fill="#efefef"/>
<rect x="300.71" y="156.40" width="11.2" height="11.2" fill="#efefef"/>
<rect x="313.57" y="156.40" width="11.2" height="11.2" fill="#efefef"/>
<rect x="326.43" y="156.40" width="11.2" height="11.2" fill="#efefef"/>
<rect x="339.29" y="156.40" width="11.2" height="11.2" fill="#efefef"/>
<rect x="352.15" y="156.40" width="11.2" height="11.2" fill="#efefef"/>
<rect x="365.01" y="156.40" width="11.2" height="11.2" fill="#efefef"/>
<rect x="377.87" y="156.40" width="11.2" height="11.2" fill="#efefef"/>
<rect x="390.73" y="156.40" width="11.2" height="11.2" fill="#efefef"/>
<rect x="403.59" y="156.40" width="11.2" height="11.2" fill="#efefef"/>
<rect x="287.85" y="169.26" width="11.2" height="11.2" fill="#efefef"/>
<rect x="300.71" y="169.26" width="11.2" height="11.2" fill="#efefef"/>
<rect x="313.57" y="169.26" width="11.2" height="11.2" fill="#efefef"/>
<rect x="326.43" y="169.26" width="11.2" height="11.2" fill="#efefef"/>
<rect x="339.29" y="169.26" width="11.2" height="11.2" fill="#efefef"/>
<rect x="352.15" y="169.26" width="11.2" height="11.2" fill="#efefef"/>
<rect x="365.01" y="169.26" width="11.2" height="11.2" fill="#efefef"/>
<rect x="377.87" y="169.26" width="11.2" height="11.2" fill="#efefef"/>
<rect x="390.73" y="169.26" width="11.2" height="11.2" fill="#efefef"/>
<rect x="403.59" y="169.26" width="11.2" height="11.2" fill="#efefef"/>
<rect x="287.85" y="182.12" width="11.2" height="11.2" fill="#efefef"/>
<rect x="300.71" y="182.12" width="11.2" height="11.2" fill="#efefef"/>
<rect x="313.57" y="182.12" width="11.2" height="11.2" fill="#efefef"/>
<rect x="326.43" y="182.12" width="11.2" height="11.2" fill="#efefef"/>
<rect x="339.29" y="182.12" width="11.2" height="11.2" fill="#efefef"/>
<rect x="352.15" y="182.12" width="11.2" height="11.2" fill="#efefef"/>
<rect x="365.01" y="182.12" width="11.2" height="11.2" fill="#efefef"/>
<rect x="377.87" y="182.12" width="11.2" height="11.2" fill="#efefef"/>
<rect x="390.73" y="182.12" width="11.2" height="11.2" fill="#efefef"/>
<rect x="403.59" y="182.12" width="11.2" height="11.2" fill="#efefef"/>
<rect x="287.85" y="194.98" width="11.2" height="11.2" fill="#efefef"/>
<rect x="300.71" y="194.98" width="11.2" height="11.2" fill="#efefef"/>
<rect x="313.57" y="194.98" width="11.2" height="11.2" fill="#efefef"/>
<rect x="326.43" y="194.98" width="11.2" height="11.2" fill="#efefef"/>
<rect x="339.29" y="194.98" width="11.2" height="11.2" fill="#efefef"/>
<rect x="352.15" y="194.98" width="11.2" height="11.2" fill="#efefef"/>
<rect x="365.01" y="194.98" width="11.2" height="11.2" fill="#efefef"/>
<rect x="377.87" y="194.98" width="11.2" height="11.2" fill="#efefef"/>
<rect x="390.73" y="194.98" width="11.2" height="11.2" fill="#efefef"/>
<rect x="403.59" y="194.98" width="11.2" height="11.2" fill="#efefef"/>
<rect x="287.85" y="207.84" width="11.2" height="11.2" fill="#efefef"/>
<rect x="300.71" y="207.84" width="11.2" height="11.2" fill="#efefef"/>
<rect x="313.57" y="207.84" width="11.2" height="11.2" fill="#efefef"/>
<rect x="326.43" y="207.84" width="11.2" height="11.2" fill="#efefef"/>
<rect x="339.29" y="207.84" width="11.2" height="11.2" fill="#efefef"/>
<rect x="352.15" y="207.84" width="11.2" height="11.2" fill="#efefef"/>
<rect x="365.01" y="207.84" width="11.2" height="11.2" fill="#efefef"/>
<rect x="377.87" y="207.84" width="11.2" height="11.2" fill="#efefef"/>
<rect x="390.73" y="207.84" width="11.2" height="11.2" fill="#efefef"/>
<rect x="403.59" y="207.84" width="11.2" height="11.2" fill="#efefef"/>
<rect x="287.85" y="220.70" width="11.2" height="11.2" fill="#0fa0ec"/>
<rect x="300.71" y="220.70" width="11.2" height="11.2" fill="#0fa0ec"/>
<rect x="313.57" y="220.70" width="11.2" height="11.2" fill="#0fa0ec"/>
<rect x="326.43" y="220.70" width="11.2" height="11.2" fill="#0fa0ec"/>
<rect x="339.29" y="220.70" width="11.2" height="11.2" fill="#0fa0ec"/>
<rect x="352.15" y="220.70" width="11.2" height="11.2" fill="#0fa0ec"/>
<rect x="365.01" y="220.70" width="11.2" height="11.2" fill="#0fa0ec"/>
<rect x="377.87" y="220.70" width="11.2" height="11.2" fill="#0fa0ec"/>
<rect x="390.73" y="220.70" width="11.2" height="11.2" fill="#efefef"/>
<rect x="403.59" y="220.70" width="11.2" height="11.2" fill="#efefef"/>
<rect x="287.85" y="233.56" width="11.2" height="11.2" fill="#efefef"/>
<rect x="300.71" y="233.56" width="11.2" height="11.2" fill="#efefef"/>
<rect x="313.57" y="233.56" width="11.2" height="11.2" fill="#efefef"/>
<rect x="326.43" y="233.56" width="11.2" height="11.2" fill="#efefef"/>
<rect x="339.29" y="233.56" width="11.2" height="11.2" fill="#efefef"/>
<rect x="352.15" y="233.56" width="11.2" height="11.2" fill="#0fa0ec"/>
<rect x="365.01" y="233.56" width="11.2" height="11.2" fill="#0fa0ec"/>
<rect x="377.87" y="233.56" width="11.2" height="11.2" fill="#0fa0ec"/>
<rect x="390.73" y="233.56" width="11.2" height="11.2" fill="#0fa0ec"/>
<rect x="403.59" y="233.56" width="11.2" height="11.2" fill="#0fa0ec"/>
<rect x="287.85" y="246.42" width="11.2" height="11.2" fill="#efefef"/>
<rect x="300.71" y="246.42" width="11.2" height="11.2" fill="#efefef"/>
<rect x="313.57" y="246.42" width="11.2" height="11.2" fill="#efefef"/>
<rect x="326.43" y="246.42" width="11.2" height="11.2" fill="#efefef"/>
<rect x="339.29" y="246.42" width="11.2" height="11.2" fill="#efefef"/>
<rect x="352.15" y="246.42" width="11.2" height="11.2" fill="#efefef"/>
<rect x="365.01" y="246.42" width="11.2" height="11.2" fill="#efefef"/>
<rect x="377.87" y="246.42" width="11.2" height="11.2" fill="#efefef"/>
<rect x="390.73" y="246.42" width="11.2" height="11.2" fill="#efefef"/>
<rect x="403.59" y="246.42" width="11.2" height="11.2" fill="#efefef"/>
<rect x="287.85" y="259.28" width="11.2" height="11.2" fill="#efefef"/>
<rect x="300.71" y="259.28" width="11.2" height="11.2" fill="#efefef"/>
<rect x="313.57" y="259.28" width="11.2" height="11.2" fill="#efefef"/>
<rect x="326.43" y="259.28" width="11.2" height="11.2" fill="#efefef"/>
<rect x="339.29" y="259.28" width="11.2" height="11.2" fill="#efefef"/>
<rect x="352.15" y="259.28" width="11.2" height="11.2" fill="#efefef"/>
<rect x="365.01" y="259.28" width="11.2" height="11.2" fill="#efefef"/>
<rect x="377.87" y="259.28" width="11.2" height="11.2" fill="#efefef"/>
<rect x="390.73" y="259.28" width="11.2" height="11.2" fill="#efefef"/>
<rect x="403.59" y="259.28" width="11.2" height="11.2" fill="#efefef"/>
<rect x="287.85" y="272.14" width="11.2" height="11.2" fill="#efefef"/>
<rect x="300.71" y="272.14" width="11.2" height="11.2" fill="#efefef"/>
<rect x="313.57" y="272.14" width="11.2" height="11.2" fill="#efefef"/>
<rect x="326.43" y="272.14" width="11.2" height="11.2" fill="#efefef"/>
<rect x="339.29" y="272.14" width="11.2" height="11.2" fill="#efefef"/>
<rect x="352.15" y="272.14" width="11.2" height="11.2" fill="#efefef"/>
<rect x="365.01" y="272.14" width="11.2" height="11.2" fill="#efefef"/>
<rect x="377.87" y="272.14" width="11.2" height="11.2" fill="#efefef"/>
<rect x="390.73" y="272.14" width="11.2" height="11.2" fill="#efefef"/>
<rect x="403.59" y="272.14" width="11.2" height="11.2" fill="#efefef"/>
<rect x="501.25" y="156.40" width="11.2" height="11.2" fill="#efefef"/>
<rect x="514.11" y="156.40" width="11.2" height="11.2" fill="#efefef"/>
<rect x="526.97" y="156.40" width="11.2" height="11.2" fill="#efefef"/>
<rect x="539.83" y="156.40" width="11.2" height="11.2" fill="#efefef"/>
<rect x="552.69" y="156.40" width="11.2" height="11.2" fill="#efefef"/>
<rect x="565.55" y="156.40" width="11.2" height="11.2" fill="#efefef"/>
<rect x="578.41" y="156.40" width="11.2" height="11.2" fill="#efefef"/>
<rect x="591.27" y="156.40" width="11.2" height="11.2" fill="#efefef"/>
<rect x="604.13" y="156.40" width="11.2" height="11.2" fill="#efefef"/>
<rect x="616.99" y="156.40" width="11.2" height="11.2" fill="#efefef"/>
<rect x="501.25" y="169.26" width="11.2" height="11.2" fill="#efefef"/>
<rect x="514.11" y="169.26" width="11.2" height="11.2" fill="#efefef"/>
<rect x="526.97" y="169.26" width="11.2" height="11.2" fill="#efefef"/>
<rect x="539.83" y="169.26" width="11.2" height="11.2" fill="#efefef"/>
<rect x="552.69" y="169.26" width="11.2" height="11.2" fill="#efefef"/>
<rect x="565.55" y="169.26" width="11.2" height="11.2" fill="#efefef"/>
<rect x="578.41" y="169.26" width="11.2" height="11.2" fill="#efefef"/>
<rect x="591.27" y="169.26" width="11.2" height="11.2" fill="#efefef"/>
<rect x="604.13" y="169.26" width="11.2" height="11.2" fill="#efefef"/>
<rect x="616.99" y="169.26" width="11.2" height="11.2" fill="#efefef"/>
<rect x="501.25" y="182.12" width="11.2" height="11.2" fill="#70ebe1"/>
<rect x="514.11" y="182.12" width="11.2" height="11.2" fill="#efefef"/>
<rect x="526.97" y="182.12" width="11.2" height="11.2" fill="#efefef"/>
<rect x="539.83" y="182.12" width="11.2" height="11.2" fill="#efefef"/>
<rect x="552.69" y="182.12" width="11.2" height="11.2" fill="#efefef"/>
<rect x="565.55" y="182.12" width="11.2" height="11.2" fill="#efefef"/>
<rect x="578.41" y="182.12" width="11.2" height="11.2" fill="#efefef"/>
<rect x="591.27" y="182.12" width="11.2" height="11.2" fill="#efefef"/>
<rect x="604.13" y="182.12" width="11.2" height="11.2" fill="#efefef"/>
<rect x="616.99" y="182.12" width="11.2" height="11.2" fill="#efefef"/>
<rect x="501.25" y="194.98" width="11.2" height="11.2" fill="#70ebe1"/>
<rect x="514.11" y="194.98" width="11.2" height="11.2" fill="#70ebe1"/>
<rect x="526.97" y="194.98" width="11.2" height="11.2" fill="#70ebe1"/>
<rect x="539.83" y="194.98" width="11.2" height="11.2" fill="#70ebe1"/>
<rect x="552.69" y="194.98" width="11.2" height="11.2" fill="#70ebe1"/>
<rect x="565.55" y="194.98" width="11.2" height="11.2" fill="#70ebe1"/>
<rect x="578.41" y="194.98" width="11.2" height="11.2" fill="#70ebe1"/>
<rect x="591.27" y="194.98" width="11.2" height="11.2" fill="#70ebe1"/>
<rect x="604.13" y="194.98" width="11.2" height="11.2" fill="#70ebe1"/>
<rect x="616.99" y="194.98" width="11.2" height="11.2" fill="#70ebe1"/>
<rect x="501.25" y="207.84" width="11.2" height="11.2" fill="#70ebe1"/>
<rect x="514.11" y="207.84" width="11.2" height="11.2" fill="#70ebe1"/>
<rect x="526.97" y="207.84" width="11.2" height="11.2" fill="#70ebe1"/>
<rect x="539.83" y="207.84" width="11.2" height="11.2" fill="#70ebe1"/>
<rect x="552.69" y="207.84" width="11.2" height="11.2" fill="#70ebe1"/>
<rect x="565.55" y="207.84" width="11.2" height="11.2" fill="#70ebe1"/>
<rect x="578.41" y="207.84" width="11.2" height="11.2" fill="#70ebe1"/>
<rect x="591.27" y="207.84" width="11.2" height="11.2" fill="#70ebe1"/>
<rect x="604.13" y="207.84" width="11.2" height="11.2" fill="#70ebe1"/>
<rect x="616.99" y="207.84" width="11.2" height="11.2" fill="#70ebe1"/>
<rect x="501.25" y="220.70" width="11.2" height="11.2" fill="#efefef"/>
<rect x="514.11" y="220.70" width="11.2" height="11.2" fill="#efefef"/>
<rect x="526.97" y="220.70" width="11.2" height="11.2" fill="#efefef"/>
<rect x="539.83" y="220.70" width="11.2" height="11.2" fill="#efefef"/>
<rect x="552.69" y="220.70" width="11.2" height="11.2" fill="#efefef"/>
<rect x="565.55" y="220.70" width="11.2" height="11.2" fill="#efefef"/>
<rect x="578.41" y="220.70" width="11.2" height="11.2" fill="#efefef"/>
<rect x="591.27" y="220.70" width="11.2" height="11.2" fill="#efefef"/>
<rect x="604.13" y="220.70" width="11.2" height="11.2" fill="#70ebe1"/>
<rect x="616.99" y="220.70" width="11.2" height="11.2" fill="#70ebe1"/>
<rect x="501.25" y="233.56" width="11.2" height="11.2" fill="#efefef"/>
<rect x="514.11" y="233.56" width="11.2" height="11.2" fill="#efefef"/>
<rect x="526.97" y="233.56" width="11.2" height="11.2" fill="#efefef"/>
<rect x="539.83" y="233.56" width="11.2" height="11.2" fill="#efefef"/>
<rect x="552.69" y="233.56" width="11.2" height="11.2" fill="#efefef"/>
<rect x="565.55" y="233.56" width="11.2" height="11.2" fill="#efefef"/>
<rect x="578.41" y="233.56" width="11.2" height="11.2" fill="#efefef"/>
<rect x="591.27" y="233.56" width="11.2" height="11.2" fill="#efefef"/>
<rect x="604.13" y="233.56" width="11.2" height="11.2" fill="#efefef"/>
<rect x="616.99" y="233.56" width="11.2" height="11.2" fill="#efefef"/>
<rect x="501.25" y="246.42" width="11.2" height="11.2" fill="#efefef"/>
<rect x="514.11" y="246.42" width="11.2" height="11.2" fill="#efefef"/>
<rect x="526.97" y="246.42" width="11.2" height="11.2" fill="#efefef"/>
<rect x="539.83" y="246.42" width="11.2" height="11.2" fill="#efefef"/>
<rect x="552.69" y="246.42" width="11.2" height="11.2" fill="#efefef"/>
<rect x="565.55" y="246.42" width="11.2" height="11.2" fill="#efefef"/>
<rect x="578.41" y="246.42" width="11.2" height="11.2" fill="#efefef"/>
<rect x="591.27" y="246.42" width="11.2" height="11.2" fill="#efefef"/>
<rect x="604.13" y="246.42" width="11.2" height="11.2" fill="#efefef"/>
<rect x="616.99" y="246.42" width="11.2" height="11.2" fill="#efefef"/>
<rect x="501.25" y="259.28" width="11.2" height="11.2" fill="#efefef"/>
<rect x="514.11" y="259.28" width="11.2" height="11.2" fill="#efefef"/>
<rect x="526.97" y="259.28" width="11.2" height="11.2" fill="#efefef"/>
<rect x="539.83" y="259.28" width="11.2" height="11.2" fill="#efefef"/>
<rect x="552.69" y="259.28" width="11.2" height="11.2" fill="#efefef"/>
<rect x="565.55" y="259.28" width="11.2" height="11.2" fill="#efefef"/>
<rect x="578.41" y="259.28" width="11.2" height="11.2" fill="#efefef"/>
<rect x="591.27" y="259.28" width="11.2" height="11.2" fill="#efefef"/>
<rect x="604.13" y="259.28" width="11.2" height="11.2" fill="#efefef"/>
<rect x="616.99" y="259.28" width="11.2" height="11.2" fill="#efefef"/>
<rect x="501.25" y="272.14" width="11.2" height="11.2" fill="#efefef"/>
<rect x="514.11" y="272.14" width="11.2" height="11.2" fill="#efefef"/>
<rect x="526.97" y="272.14" width="11.2" height="11.2" fill="#efefef"/>
<rect x="539.83" y="272.14" width="11.2" height="11.2" fill="#efefef"/>
<rect x="552.69" y="272.14" width="11.2" height="11.2" fill="#efefef"/>
<rect x="565.55" y="272.14" width="11.2" height="11.2" fill="#efefef"/>
<rect x="578.41" y="272.14" width="11.2" height="11.2" fill="#efefef"/>
<rect x="591.27" y="272.14" width="11.2" height="11.2" fill="#efefef"/>
<rect x="604.13" y="272.14" width="11.2" height="11.2" fill="#efefef"/>
<rect x="616.99" y="272.14" width="11.2" height="11.2" fill="#efefef"/>
<rect x="714.65" y="156.40" width="11.2" height="11.2" fill="#2249f2"/>
<rect x="727.51" y="156.40" width="11.2" height="11.2" fill="#2249f2"/>
<rect x="740.37" y="156.40" width="11.2" height="11.2" fill="#2249f2"/>
<rect x="753.23" y="156.40" width="11.2" height="11.2" fill="#2249f2"/>
<rect x="766.09" y="156.40" width="11.2" height="11.2" fill="#2249f2"/>
<rect x="778.95" y="156.40" width="11.2" height="11.2" fill="#2249f2"/>
<rect x="791.81" y="156.40" width="11.2" height="11.2" fill="#2249f2"/>
<rect x="804.67" y="156.40" width="11.2" height="11.2" fill="#2249f2"/>
<rect x="817.53" y="156.40" width="11.2" height="11.2" fill="#2249f2"/>
<rect x="830.39" y="156.40" width="11.2" height="11.2" fill="#2249f2"/>
<rect x="714.65" y="169.26" width="11.2" height="11.2" fill="#2249f2"/>
<rect x="727.51" y="169.26" width="11.2" height="11.2" fill="#2249f2"/>
<rect x="740.37" y="169.26" width="11.2" height="11.2" fill="#2249f2"/>
<rect x="753.23" y="169.26" width="11.2" height="11.2" fill="#2249f2"/>
<rect x="766.09" y="169.26" width="11.2" height="11.2" fill="#2249f2"/>
<rect x="778.95" y="169.26" width="11.2" height="11.2" fill="#2249f2"/>
<rect x="791.81" y="169.26" width="11.2" height="11.2" fill="#2249f2"/>
<rect x="804.67" y="169.26" width="11.2" height="11.2" fill="#2249f2"/>
<rect x="817.53" y="169.26" width="11.2" height="11.2" fill="#2249f2"/>
<rect x="830.39" y="169.26" width="11.2" height="11.2" fill="#2249f2"/>
<rect x="714.65" y="182.12" width="11.2" height="11.2" fill="#efefef"/>
<rect x="727.51" y="182.12" width="11.2" height="11.2" fill="#2249f2"/>
<rect x="740.37" y="182.12" width="11.2" height="11.2" fill="#2249f2"/>
<rect x="753.23" y="182.12" width="11.2" height="11.2" fill="#2249f2"/>
<rect x="766.09" y="182.12" width="11.2" height="11.2" fill="#2249f2"/>
<rect x="778.95" y="182.12" width="11.2" height="11.2" fill="#2249f2"/>
<rect x="791.81" y="182.12" width="11.2" height="11.2" fill="#2249f2"/>
<rect x="804.67" y="182.12" width="11.2" height="11.2" fill="#2249f2"/>
<rect x="817.53" y="182.12" width="11.2" height="11.2" fill="#2249f2"/>
<rect x="830.39" y="182.12" width="11.2" height="11.2" fill="#2249f2"/>
<rect x="714.65" y="194.98" width="11.2" height="11.2" fill="#efefef"/>
<rect x="727.51" y="194.98" width="11.2" height="11.2" fill="#efefef"/>
<rect x="740.37" y="194.98" width="11.2" height="11.2" fill="#efefef"/>
<rect x="753.23" y="194.98" width="11.2" height="11.2" fill="#efefef"/>
<rect x="766.09" y="194.98" width="11.2" height="11.2" fill="#efefef"/>
<rect x="778.95" y="194.98" width="11.2" height="11.2" fill="#efefef"/>
<rect x="791.81" y="194.98" width="11.2" height="11.2" fill="#efefef"/>
<rect x="804.67" y="194.98" width="11.2" height="11.2" fill="#efefef"/>
<rect x="817.53" y="194.98" width="11.2" height="11.2" fill="#efefef"/>
<rect x="830.39" y="194.98" width="11.2" height="11.2" fill="#efefef"/>
<rect x="714.65" y="207.84" width="11.2" height="11.2" fill="#efefef"/>
<rect x="727.51" y="207.84" width="11.2" height="11.2" fill="#efefef"/>
<rect x="740.37" y="207.84" width="11.2" height="11.2" fill="#efefef"/>
<rect x="753.23" y="207.84" width="11.2" height="11.2" fill="#efefef"/>
<rect x="766.09" y="207.84" width="11.2" height="11.2" fill="#efefef"/>
<rect x="778.95" y="207.84" width="11.2" height="11.2" fill="#efefef"/>
<rect x="791.81" y="207.84" width="11.2" height="11.2" fill="#efefef"/>
<rect x="804.67" y="207.84" width="11.2" height="11.2" fill="#efefef"/>
<rect x="817.53" y="207.84" width="11.2" height="11.2" fill="#efefef"/>
<rect x="830.39" y="207.84" width="11.2" height="11.2" fill="#efefef"/>
<rect x="714.65" y="220.70" width="11.2" height="11.2" fill="#efefef"/>
<rect x="727.51" y="220.70" width="11.2" height="11.2" fill="#efefef"/>
<rect x="740.37" y="220.70" width="11.2" height="11.2" fill="#efefef"/>
<rect x="753.23" y="220.70" width="11.2" height="11.2" fill="#efefef"/>
<rect x="766.09" y="220.70" width="11.2" height="11.2" fill="#efefef"/>
<rect x="778.95" y="220.70" width="11.2" height="11.2" fill="#efefef"/>
<rect x="791.81" y="220.70" width="11.2" height="11.2" fill="#efefef"/>
<rect x="804.67" y="220.70" width="11.2" height="11.2" fill="#efefef"/>
<rect x="817.53" y="220.70" width="11.2" height="11.2" fill="#efefef"/>
<rect x="830.39" y="220.70" width="11.2" height="11.2" fill="#efefef"/>
<rect x="714.65" y="233.56" width="11.2" height="11.2" fill="#efefef"/>
<rect x="727.51" y="233.56" width="11.2" height="11.2" fill="#efefef"/>
<rect x="740.37" y="233.56" width="11.2" height="11.2" fill="#efefef"/>
<rect x="753.23" y="233.56" width="11.2" height="11.2" fill="#efefef"/>
<rect x="766.09" y="233.56" width="11.2" height="11.2" fill="#efefef"/>
<rect x="778.95" y="233.56" width="11.2" height="11.2" fill="#efefef"/>
<rect x="791.81" y="233.56" width="11.2" height="11.2" fill="#efefef"/>
<rect x="804.67" y="233.56" width="11.2" height="11.2" fill="#efefef"/>
<rect x="817.53" y="233.56" width="11.2" height="11.2" fill="#efefef"/>
<rect x="830.39" y="233.56" width="11.2" height="11.2" fill="#efefef"/>
<rect x="714.65" y="246.42" width="11.2" height="11.2" fill="#efefef"/>
<rect x="727.51" y="246.42" width="11.2" height="11.2" fill="#efefef"/>
<rect x="740.37" y="246.42" width="11.2" height="11.2" fill="#efefef"/>
<rect x="753.23" y="246.42" width="11.2" height="11.2" fill="#efefef"/>
<rect x="766.09" y="246.42" width="11.2" height="11.2" fill="#efefef"/>
<rect x="778.95" y="246.42" width="11.2" height="11.2" fill="#efefef"/>
<rect x="791.81" y="246.42" width="11.2" height="11.2" fill="#efefef"/>
<rect x="804.67" y="246.42" width="11.2" height="11.2" fill="#efefef"/>
<rect x="817.53" y="246.42" width="11.2" height="11.2" fill="#efefef"/>
<rect x="830.39" y="246.42" width="11.2" height="11.2" fill="#efefef"/>
<rect x="714.65" y="259.28" width="11.2" height="11.2" fill="#efefef"/>
<rect x="727.51" y="259.28" width="11.2" height="11.2" fill="#efefef"/>
<rect x="740.37" y="259.28" width="11.2" height="11.2" fill="#efefef"/>
<rect x="753.23" y="259.28" width="11.2" height="11.2" fill="#efefef"/>
<rect x="766.09" y="259.28" width="11.2" height="11.2" fill="#efefef"/>
<rect x="778.95" y="259.28" width="11.2" height="11.2" fill="#efefef"/>
<rect x="791.81" y="259.28" width="11.2" height="11.2" fill="#efefef"/>
<rect x="804.67" y="259.28" width="11.2" height="11.2" fill="#efefef"/>
<rect x="817.53" y="259.28" width="11.2" height="11.2" fill="#efefef"/>
<rect x="830.39" y="259.28" width="11.2" height="11.2" fill="#efefef"/>
<rect x="714.65" y="272.14" width="11.2" height="11.2" fill="#efefef"/>
<rect x="727.51" y="272.14" width="11.2" height="11.2" fill="#efefef"/>
<rect x="740.37" y="272.14" width="11.2" height="11.2" fill="#efefef"/>
<rect x="753.23" y="272.14" width="11.2" height="11.2" fill="#efefef"/>
<rect x="766.09" y="272.14" width="11.2" height="11.2" fill="#efefef"/>
<rect x="778.95" y="272.14" width="11.2" height="11.2" fill="#efefef"/>
<rect x="791.81" y="272.14" width="11.2" height="11.2" fill="#efefef"/>
<rect x="804.67" y="272.14" width="11.2" height="11.2" fill="#efefef"/>
<rect x="817.53" y="272.14" width="11.2" height="11.2" fill="#efefef"/>
<rect x="830.39" y="272.14" width="11.2" height="11.2" fill="#efefef"/>
</g>
</svg>
<div class="t" style="left:60.0px;top:50.12px;font-size:17.75px;color:#111;text-shadow:0 0 0.6px rgba(17,17,17,0.55)">100 крупнейших городов применяют разные подходы к регулированию электронных самокатов.</div>
<div class="t" style="left:63.1px;top:96.03px;font-size:14.55px;color:#1a1a1a;text-shadow:0 0 0.6px rgba(26,26,26,0.55)">Архетипы регулирования для топ-100 городов по населению, количеству городов</div>
<div class="t" style="left:-161.9px;width:600px;text-align:center;top:136.72px;font-size:10.2px;color:#333;text-shadow:0 0 0.6px rgba(51,51,51,0.55)">35</div>
<div class="t" style="left:51.30000000000001px;width:600px;text-align:center;top:136.72px;font-size:10.2px;color:#333;text-shadow:0 0 0.6px rgba(51,51,51,0.55)">13</div>
<div class="t" style="left:265.1px;width:600px;text-align:center;top:136.72px;font-size:10.2px;color:#333;text-shadow:0 0 0.6px rgba(51,51,51,0.55)">23</div>
<div class="t" style="left:478.9px;width:600px;text-align:center;top:138.05px;font-size:9.8px;color:#333;text-shadow:0 0 0.6px rgba(51,51,51,0.55)">29</div>
<div class="t" style="left:-162.0px;width:600px;text-align:center;top:303.10px;font-size:9.75px;color:#222;text-shadow:0 0 0.6px rgba(34,34,34,0.55)">Запрещено</div>
<div class="t" style="left:-163.4px;width:600px;text-align:center;top:321.50px;font-size:10.45px;color:#444;text-shadow:0 0 0.6px rgba(68,68,68,0.55)">Запрет на общие</div>
<div class="t" style="left:-166.0px;width:600px;text-align:center;top:341.54px;font-size:8.05px;color:#707070;text-shadow:0 0 0.6px rgba(112,112,112,0.55)">электронные самокаты</div>
<div class="t" style="left:47.89999999999998px;width:600px;text-align:center;top:303.08px;font-size:9.77px;color:#1a1a1a;text-shadow:0 0 0.6px rgba(26,26,26,0.55)">Регулируется тендером.</div>
<div class="t" style="left:46.80000000000001px;width:600px;text-align:center;top:322.82px;font-size:8.9px;color:#555;text-shadow:0 0 0.6px rgba(85,85,85,0.55)">Разрешены общие электронные</div>
<div class="t" style="left:48.39999999999998px;width:600px;text-align:center;top:343.23px;font-size:7.23px;color:#727272;text-shadow:0 0 0.6px rgba(114,114,114,0.55)">самокаты с ограничением количества игроков.</div>
<div class="t" style="left:264.4px;width:600px;text-align:center;top:303.24px;font-size:12.89px;color:#2a2a2a;text-shadow:0 0 0.6px rgba(42,42,42,0.55)">Открытая регулируемая среда</div>
<div class="t" style="left:264.1px;width:600px;text-align:center;top:322.23px;font-size:9.59px;color:#666;text-shadow:0 0 0.6px rgba(102,102,102,0.55)">Общие электронные самокаты</div>
<div class="t" style="left:264.4px;width:600px;text-align:center;top:340.15px;font-size:12.05px;color:#3a3a3a;text-shadow:0 0 0.6px rgba(58,58,58,0.55)">разрешено без лимита игроков</div>
<div class="t" style="left:478.0px;width:600px;text-align:center;top:304.12px;font-size:9.72px;color:#222;text-shadow:0 0 0.6px rgba(34,34,34,0.55)">Нет регулирования</div>
<div class="t" style="left:52.7px;top:380.85px;font-size:8.86px;color:#8a8a8a;text-shadow:0 0 0.6px rgba(138,138,138,0.55)">Примечание. Анализ сосредоточен на Китае, Европе (включая Россию), Японии/Южной Корее, Северной Америке, Южной Америке и Южной Азии (включая Австралию</div>
<div class="t" style="left:52.6px;top:393.63px;font-size:10.3px;color:#727272;text-shadow:0 0 0.6px rgba(114,114,114,0.55)">и Сингапур).</div>
<div class="t" style="left:52.9px;top:406.17px;font-size:9.66px;color:#7c7c7c;text-shadow:0 0 0.6px rgba(124,124,124,0.55)">Источник: сайты местных органов власти; нажать поиск; Анализ McKinsey</div>
<div class="t" style="left:53.4px;top:446.84px;font-size:11.23px;color:#3c3c3c;text-shadow:0 0 0.6px rgba(60,60,60,0.55)">Маккинси и компания</div>
</body>
</html>
